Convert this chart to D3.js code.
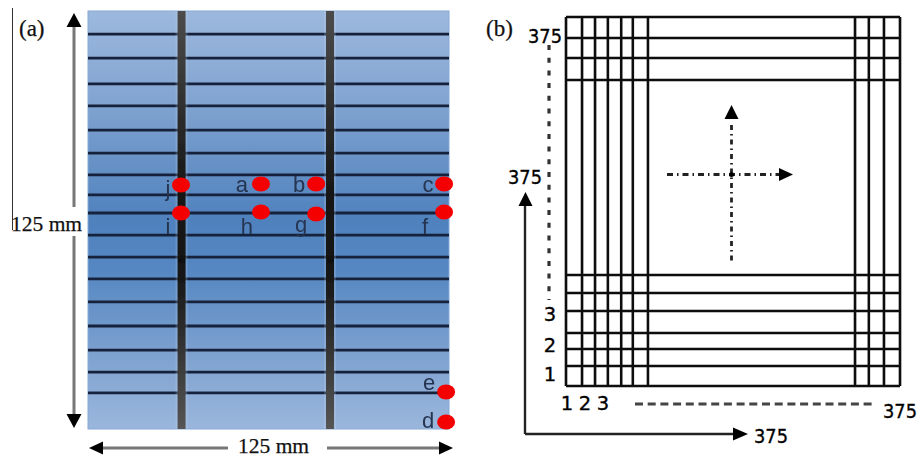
<!DOCTYPE html>
<html>
<head>
<meta charset="utf-8">
<script src="https://cdnjs.cloudflare.com/ajax/libs/d3/7.8.5/d3.min.js"></script>
<style>
  html, body { margin: 0; padding: 0; background: #fff; }
  svg { display: block; }
  .serif { font-family: "Liberation Serif", serif; fill: #111; stroke: #111; stroke-width: 0.25px; }
  .num { font-family: "DejaVu Sans", sans-serif; font-size: 19.5px; fill: #000; stroke: #000; stroke-width: 0.35px; }
  .pt { font-family: "Liberation Sans", sans-serif; font-size: 22px; fill: #26344f; }
</style>
</head>
<body>
<div id="chart"></div>
<script>
// panel (a), plate in mm
var plateSize = 125
var beadY = [118.1, 110.9, 103.2, 96.6, 89.4, 82.5, 76, 70, 64.6, 58, 51.4, 44.9, 38, 30.8, 23.6, 17, 10.8]
var crossBeadX = [32.4, 83.8]
var pointNames = ["a", "b", "c", "d", "e", "f", "g", "h", "i", "j"]
var pointX = [59.9, 79, 123.3, 124, 124, 123.3, 79, 59.9, 32.2, 32.2]
var pointY = [73.3, 73.3, 73.3, 2.1, 11.1, 64.9, 64.3, 64.9, 64.6, 73]

// panel (b), mesh cell numbers
var meshSize = 375
var meshX = [0, 18, 32.6, 47, 62, 75, 92, 324.5, 340, 357, 375]
var meshY = [0, 20.3, 37.6, 53.9, 76.2, 94.5, 112.8, 311, 333.3, 353.7, 375]
var cellLabels = ["1", "2", "3"]

var svg = d3.select("#chart").append("svg")
    .attr("width", 919)
    .attr("height", 458)

var defs = svg.append("defs")

var blur = defs.append("filter").attr("id", "soft")
    .attr("x", "-5%").attr("y", "-5%").attr("width", "110%").attr("height", "110%")
blur.append("feGaussianBlur").attr("stdDeviation", 0.7)

var plateFill = defs.append("linearGradient").attr("id", "plateFill")
    .attr("x1", 0).attr("y1", 0).attr("x2", 0).attr("y2", 1)
plateFill.selectAll("stop")
    .data([[0, "#9cb8dd"], [0.2, "#84a6d2"], [0.5, "#4f81bd"], [0.62, "#5587c2"], [0.85, "#83a5d2"], [1, "#9ab6dc"]])
    .enter().append("stop")
    .attr("offset", function(d) { return d[0] })
    .attr("stop-color", function(d) { return d[1] })

var barFill = defs.append("linearGradient").attr("id", "barFill")
    .attr("x1", 0).attr("y1", 0).attr("x2", 0).attr("y2", 1)
barFill.selectAll("stop")
    .data([[0, "#4c4c4c"], [0.4, "#1a1a1a"], [0.6, "#111"], [1, "#555"]])
    .enter().append("stop")
    .attr("offset", function(d) { return d[0] })
    .attr("stop-color", function(d) { return d[1] })

var x = d3.scaleLinear().domain([0, plateSize]).range([88, 449])
var y = d3.scaleLinear().domain([0, plateSize]).range([429, 11])

var a = svg.append("g").attr("filter", "url(#soft)")

a.append("rect")
    .attr("x", x(0))
    .attr("y", y(plateSize))
    .attr("width", x(plateSize) - x(0))
    .attr("height", y(0) - y(plateSize))
    .attr("fill", "url(#plateFill)")
    .attr("stroke", "#86a9d6")

a.selectAll(".bead")
    .data(beadY)
    .enter().append("line")
    .attr("class", "bead")
    .attr("x1", x(0))
    .attr("x2", x(plateSize))
    .attr("y1", y)
    .attr("y2", y)
    .attr("stroke", "#17233a")
    .attr("stroke-width", 2.8)

// pale edge each side of the cross beads
a.selectAll(".edge")
    .data(crossBeadX)
    .enter().append("rect")
    .attr("class", "edge")
    .attr("x", function(d) { return x(d) - 6 })
    .attr("y", y(plateSize))
    .attr("width", 12)
    .attr("height", y(0) - y(plateSize))
    .attr("fill", "#cfdcf0")
    .attr("opacity", 0.2)

a.selectAll(".cross")
    .data(crossBeadX)
    .enter().append("rect")
    .attr("class", "cross")
    .attr("x", function(d) { return x(d) - 4 })
    .attr("y", y(plateSize))
    .attr("width", 8)
    .attr("height", y(0) - y(plateSize))
    .attr("fill", "url(#barFill)")

// letter offsets from the red dots
var labelShift = {
  a: [-19, 2], b: [-17, 2], c: [-16, 2], d: [-18, 0], e: [-17, -8],
  f: [-19, 16], g: [-15, 12], h: [-14, 16], i: [-13, 15], j: [-13, 5]
}

a.selectAll(".pt")
    .data(pointNames)
    .enter().append("text")
    .attr("class", "pt")
    .attr("text-anchor", "middle")
    .attr("dominant-baseline", "middle")
    .attr("x", function(d, i) { return x(pointX[i]) + labelShift[d][0] })
    .attr("y", function(d, i) { return y(pointY[i]) + labelShift[d][1] })
    .text(function(d) { return d })

a.selectAll(".dot")
    .data(pointNames)
    .enter().append("ellipse")
    .attr("class", "dot")
    .attr("cx", function(d, i) { return x(pointX[i]) })
    .attr("cy", function(d, i) { return y(pointY[i]) })
    .attr("rx", 9)
    .attr("ry", 7.5)
    .attr("fill", "#f50000")

function arrowHead(g, tipX, tipY, dir, len, wid, col) {
  var p
  if (dir == "up") p = [[tipX, tipY], [tipX - wid / 2, tipY + len], [tipX + wid / 2, tipY + len]]
  if (dir == "down") p = [[tipX, tipY], [tipX - wid / 2, tipY - len], [tipX + wid / 2, tipY - len]]
  if (dir == "left") p = [[tipX, tipY], [tipX + len, tipY - wid / 2], [tipX + len, tipY + wid / 2]]
  if (dir == "right") p = [[tipX, tipY], [tipX - len, tipY - wid / 2], [tipX - len, tipY + wid / 2]]
  g.append("path").attr("d", d3.line()(p) + "Z").attr("fill", col || "#000")
}

function seg(g, x1, y1, x2, y2, col, w, dash) {
  return g.append("line")
      .attr("x1", x1).attr("y1", y1).attr("x2", x2).attr("y2", y2)
      .attr("stroke", col).attr("stroke-width", w)
      .attr("stroke-dasharray", dash || null)
}

// dimension arrows of panel (a)
seg(a, 12.5, 8, 12.5, 230, "#333", 1)
seg(a, 74, 25, 74, 207, "#777", 3)
seg(a, 74, 236, 74, 416, "#777", 3)
arrowHead(a, 74, 13, "up", 14, 15)
arrowHead(a, 74, 428, "down", 14, 15)
seg(a, 100, 448, 228, 448, "#777", 3)
seg(a, 327, 448, 442, 448, "#777", 3)
arrowHead(a, 89, 448, "left", 14, 13)
arrowHead(a, 453, 448, "right", 14, 13)

svg.append("text").attr("class", "serif").attr("x", 19).attr("y", 36).style("font-size", "23px").text("(a)")
svg.append("text").attr("class", "serif").attr("x", 486).attr("y", 36).style("font-size", "23px").text("(b)")
svg.append("text").attr("class", "serif").attr("x", 11).attr("y", 231).style("font-size", "21.5px").text("125 mm")
svg.append("text").attr("class", "serif").attr("x", 238).attr("y", 453).style("font-size", "21.5px").text("125 mm")

// panel (b)
var mx = d3.scaleLinear().domain([0, meshSize]).range([566, 900])
var my = d3.scaleLinear().domain([0, meshSize]).range([386, 17])

var b = svg.append("g").attr("filter", "url(#soft)")

b.selectAll(".mv")
    .data(meshX)
    .enter().append("line")
    .attr("class", "mv")
    .attr("x1", mx)
    .attr("x2", mx)
    .attr("y1", my(0))
    .attr("y2", my(meshSize))
    .attr("stroke", "#111")
    .attr("stroke-width", 2.6)

b.selectAll(".mh")
    .data(meshY)
    .enter().append("line")
    .attr("class", "mh")
    .attr("x1", mx(0))
    .attr("x2", mx(meshSize))
    .attr("y1", my)
    .attr("y2", my)
    .attr("stroke", "#111")
    .attr("stroke-width", 2.6)

// coordinate axes
seg(b, 525, 204, 525, 434, "#222", 2.4)
seg(b, 525, 434, 735, 434, "#222", 2.4)
arrowHead(b, 525.5, 192, "up", 14, 14)
arrowHead(b, 748, 434, "right", 15, 13)

// dotted guides
seg(b, 549, 45, 549, 300, "#333", 3.2, "5,7.7")
seg(b, 635, 404, 873, 404, "#444", 3, "8,4.7")

// centre cross
seg(b, 731.5, 125, 731.5, 262, "#222", 2.8, "5,4,1.5,4")
seg(b, 667, 174.5, 780, 174.5, "#222", 2.8, "6,4,1.5,4")
arrowHead(b, 731.5, 105, "up", 14, 14)
arrowHead(b, 793, 174.5, "right", 14, 13)
b.append("circle").attr("cx", 731.5).attr("cy", 174.5).attr("r", 2.5).attr("fill", "#000")

var nums = [
  ["375", 545, 43], ["375", 525, 184], ["375", 771, 443], ["375", 900, 418]
]
svg.selectAll(".n375")
    .data(nums)
    .enter().append("text")
    .attr("class", "num n375")
    .attr("text-anchor", "middle")
    .attr("textLength", 34)
    .attr("lengthAdjust", "spacingAndGlyphs")
    .attr("x", function(d) { return d[1] })
    .attr("y", function(d) { return d[2] })
    .text(function(d) { return d[0] })

var sideY = [381, 352, 321], underX = [567, 585, 603]

svg.selectAll(".side")
    .data(cellLabels)
    .enter().append("text")
    .attr("class", "num side")
    .attr("text-anchor", "middle")
    .attr("x", 550)
    .attr("y", function(d, i) { return sideY[i] })
    .text(function(d) { return d })

svg.selectAll(".under")
    .data(cellLabels)
    .enter().append("text")
    .attr("class", "num under")
    .attr("text-anchor", "middle")
    .attr("x", function(d, i) { return underX[i] })
    .attr("y", 410)
    .text(function(d) { return d })
</script>
</body>
</html>
